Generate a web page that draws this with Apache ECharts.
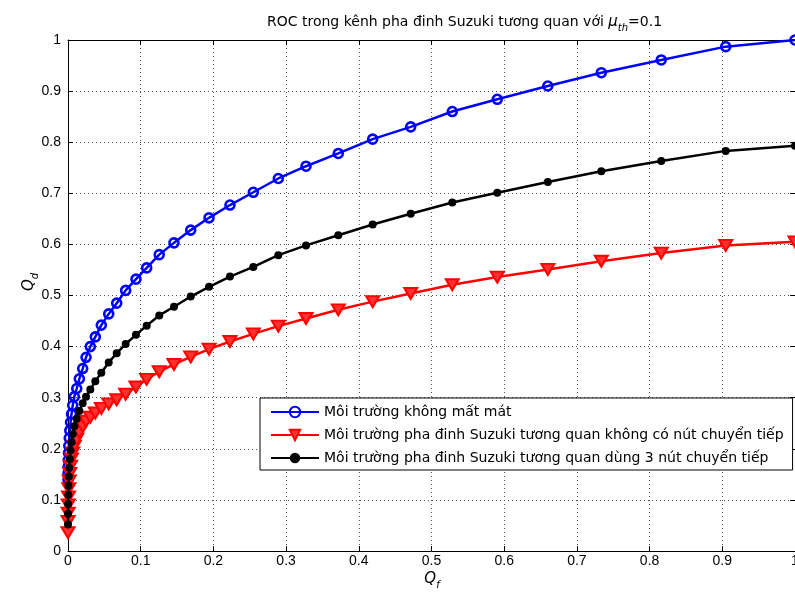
<!DOCTYPE html>
<html>
<head>
<meta charset="utf-8">
<script src="https://cdn.jsdelivr.net/npm/echarts@6/dist/echarts.min.js"></script>
<style>
  html, body { margin: 0; padding: 0; background: #fff; }
  #chart { width: 795px; height: 596px; }
</style>
</head>
<body>
<div id="chart"></div>
<script>
// False-alarm probability Q_f, shared by all three curves
const qf = [0, 0.0001, 0.0002, 0.0004, 0.0007, 0.0011, 0.0017, 0.0025, 0.0035, 0.0048,
  0.0065, 0.0087, 0.0120, 0.0156, 0.0202, 0.0248, 0.0307, 0.0376, 0.0458, 0.0560,
  0.0670, 0.0793, 0.0935, 0.1082, 0.1255, 0.1458, 0.1688, 0.1940, 0.2228, 0.2549,
  0.2893, 0.3274, 0.3718, 0.4191, 0.4714, 0.5286, 0.5905, 0.6600, 0.7336, 0.8160,
  0.9047, 1.0];

// Detection probability Q_d, lossless channel
const qdLossless = [0.140, 0.152, 0.165, 0.178, 0.192, 0.206, 0.221, 0.236, 0.252, 0.268,
  0.285, 0.302, 0.318, 0.337, 0.357, 0.379, 0.400, 0.419, 0.442, 0.464,
  0.485, 0.510, 0.532, 0.554, 0.580, 0.603, 0.628, 0.652, 0.677, 0.702,
  0.729, 0.753, 0.778, 0.806, 0.830, 0.860, 0.884, 0.910, 0.936, 0.961,
  0.987, 1.000];

// Correlated Suzuki fading, no relay
const qdNoRelay = [0.036, 0.058, 0.074, 0.090, 0.106, 0.122, 0.137, 0.152, 0.166, 0.180,
  0.192, 0.205, 0.219, 0.232, 0.244, 0.254, 0.262, 0.270, 0.279, 0.288,
  0.296, 0.307, 0.321, 0.336, 0.351, 0.365, 0.380, 0.395, 0.410, 0.425,
  0.440, 0.455, 0.472, 0.488, 0.504, 0.521, 0.536, 0.551, 0.567, 0.583,
  0.598, 0.605];

// Correlated Suzuki fading, 3 relay nodes
const qdThreeRelays = [0.052, 0.073, 0.092, 0.110, 0.128, 0.146, 0.163, 0.180, 0.197, 0.213,
  0.229, 0.244, 0.259, 0.274, 0.289, 0.302, 0.316, 0.332, 0.349, 0.369,
  0.387, 0.405, 0.423, 0.441, 0.461, 0.478, 0.498, 0.517, 0.537, 0.556,
  0.579, 0.598, 0.618, 0.639, 0.660, 0.682, 0.701, 0.722, 0.743, 0.763,
  0.783, 0.793];

const seriesNames = [
  'Môi trường không mất mát',
  'Môi trường pha đinh Suzuki tương quan không có nút chuyển tiếp',
  'Môi trường pha đinh Suzuki tương quan dùng 3 nút chuyển tiếp'
];

const axisTicks = [0, 0.1, 0.2, 0.3, 0.4, 0.5, 0.6, 0.7, 0.8, 0.9, 1];

const NUM_FONT = '"Liberation Sans", Arial, sans-serif';
const TXT_FONT = '"DejaVu Sans", sans-serif';

function pairs(ys) { return qf.map((x, i) => [x, ys[i]]); }
const fmt = v => String(Math.round(v * 10) / 10);

const chart = echarts.init(document.getElementById('chart'), null, { renderer: 'canvas' });

const gridLine = { show: true, lineStyle: { color: '#555', width: 1, type: [1, 3] } };
const frameLine = { show: true, onZero: false, lineStyle: { color: '#000', width: 1 } };
const innerTick = { show: true, inside: true, length: 5, lineStyle: { color: '#000', width: 1 } };

function valueAxis(position, main) {
  return {
    type: 'value',
    position: position,
    min: axisTicks[0],
    max: axisTicks[axisTicks.length - 1],
    interval: 0.1,
    axisLine: frameLine,
    axisTick: innerTick,
    splitLine: main ? gridLine : { show: false },
    axisLabel: main ? {
      show: true, color: '#000', fontFamily: NUM_FONT, fontSize: 14,
      margin: position === 'bottom' ? 3 : 7,
      formatter: fmt
    } : { show: false }
  };
}

const subStyle = { fontFamily: TXT_FONT, fontSize: 10, fontStyle: 'italic', fontWeight: 'normal', color: '#000', lineHeight: 10, verticalAlign: 'bottom' };

const option = {
  animation: false,
  backgroundColor: '#fff',
  title: {
    text: '{t|ROC trong kênh pha đinh Suzuki tương quan với }{mu|μ}{sub|th}{t|=0.1}',
    left: 262,
    top: 6,
    textStyle: {
      fontWeight: 'normal',
      rich: {
        t: { fontFamily: TXT_FONT, fontSize: 14, fontWeight: 'normal', color: '#000', lineHeight: 22 },
        mu: { fontFamily: TXT_FONT, fontSize: 15, fontStyle: 'italic', fontWeight: 'normal', color: '#000', lineHeight: 22 },
        sub: subStyle
      }
    }
  },
  grid: { left: 68, top: 40, right: 0, bottom: 45, containLabel: false, outerBoundsMode: 'none' },
  xAxis: [valueAxis('bottom', true), valueAxis('top', false)],
  yAxis: [valueAxis('left', true), valueAxis('right', false)],
  legend: {
    orient: 'vertical',
    left: 260,
    top: 398,
    padding: [6, 9, 4, 10],
    itemWidth: 48,
    itemHeight: 13,
    itemGap: 7,
    backgroundColor: '#fff',
    borderColor: '#000',
    borderWidth: 1,
    borderRadius: 0,
    textStyle: { fontFamily: TXT_FONT, fontSize: 14, color: '#000', lineHeight: 16 },
    data: seriesNames
  },
  graphic: [
    {
      type: 'text', x: 432, y: 579, z: 10,
      style: {
        text: '{q|Q}{s|f}', align: 'center', verticalAlign: 'middle',
        rich: {
          q: { fontFamily: TXT_FONT, fontSize: 15, fontStyle: 'italic', fill: '#000', lineHeight: 22 },
          s: { fontFamily: TXT_FONT, fontSize: 10, fontStyle: 'italic', fill: '#000', lineHeight: 10, verticalAlign: 'bottom' }
        }
      }
    },
    {
      type: 'text', x: 29, y: 282, rotation: Math.PI / 2, z: 10,
      style: {
        text: '{q|Q}{s|d}', align: 'center', verticalAlign: 'middle',
        rich: {
          q: { fontFamily: TXT_FONT, fontSize: 15, fontStyle: 'italic', fill: '#000', lineHeight: 22 },
          s: { fontFamily: TXT_FONT, fontSize: 10, fontStyle: 'italic', fill: '#000', lineHeight: 10, verticalAlign: 'bottom' }
        }
      }
    }
  ],
  series: [
    {
      name: seriesNames[0], type: 'line', data: pairs(qdLossless),
      showAllSymbol: true, symbol: 'circle', symbolSize: 9,
      lineStyle: { color: '#0000ff', width: 2.5 },
      itemStyle: { color: 'rgba(0,0,255,0)', borderColor: '#0000ff', borderWidth: 2.6 },
      z: 2
    },
    {
      name: seriesNames[1], type: 'line', data: pairs(qdNoRelay),
      showAllSymbol: true, symbol: 'triangle', symbolRotate: 180, symbolSize: [13, 11],
      lineStyle: { color: '#ff0000', width: 2.5 },
      itemStyle: { color: '#ff3030', borderColor: '#ff0000', borderWidth: 2 },
      z: 3
    },
    {
      name: seriesNames[2], type: 'line', data: pairs(qdThreeRelays),
      showAllSymbol: true, symbol: 'circle', symbolSize: 8,
      lineStyle: { color: '#000000', width: 2.5 },
      itemStyle: { color: '#000000' },
      z: 4
    }
  ]
};

chart.setOption(option);
</script>
</body>
</html>
